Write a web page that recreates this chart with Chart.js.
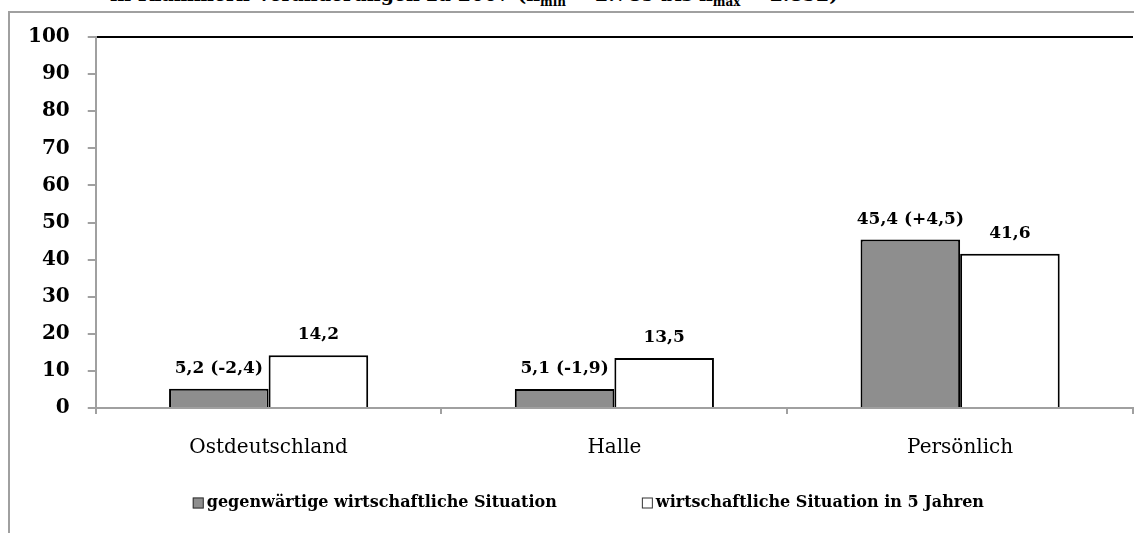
<!DOCTYPE html>
<html lang="de">
<head>
<meta charset="utf-8">
<title>Wirtschaftliche Situation</title>
<script src="https://cdn.jsdelivr.net/npm/chart.js@4.4.1/dist/chart.umd.min.js"></script>
<style>
  html, body { margin: 0; padding: 0; background: #fff; }
  #wrap { position: relative; width: 1134px; height: 533px; overflow: hidden; }
  #frame {
    position: absolute; left: 8px; top: 11px; right: -4px; bottom: -4px;
    border-top: 2px solid #a0a0a0; border-left: 2px solid #a0a0a0;
  }
  #subtitle {
    position: absolute; left: 110px; top: -17px; white-space: nowrap;
    font: bold 19px "DejaVu Serif", serif; color: #000;
  }
  #subtitle sub { font-size: 12px; }
  canvas { position: absolute; left: 0; top: 0; }
</style>
</head>
<body>
<div id="wrap">
  <div id="frame"></div>
  <div id="subtitle">in Klammern Veränderungen zu 2007 (n<sub>min</sub> = 2.789 bis n<sub>max</sub> = 2.852)</div>
  <canvas id="chart" width="1134" height="533"></canvas>
</div>
<script>
const categories = ["Ostdeutschland", "Halle", "Persönlich"];
const currentSituation = [5.2, 5.1, 45.4];
const changesTo2007 = [-2.4, -1.9, 4.5];
const inFiveYears = [14.2, 13.5, 41.6];
const yTicks = [0, 10, 20, 30, 40, 50, 60, 70, 80, 90, 100];

const axisGray = "#a0a0a0";
const serif = "'DejaVu Serif', serif";

function fmt(v) {
  return v.toFixed(1).replace(".", ",");
}

function fmtChange(v) {
  return (v > 0 ? "+" : "") + fmt(v);
}

// value labels above each bar, change to 2007 in brackets for the first series
const barLabels = {
  id: "barLabels",
  afterDatasetsDraw(chart) {
    const ctx = chart.ctx;
    ctx.save();
    ctx.font = "bold 17px " + serif;
    ctx.fillStyle = "#000";
    ctx.textAlign = "center";
    ctx.textBaseline = "alphabetic";
    chart.data.datasets.forEach((ds, di) => {
      chart.getDatasetMeta(di).data.forEach((bar, i) => {
        let text = fmt(ds.data[i]);
        if (di === 0) text += " (" + fmtChange(changesTo2007[i]) + ")";
        ctx.fillText(text, bar.x, bar.y - 16);
      });
    });
    ctx.restore();
  }
};

// one-row legend under the category labels, wide gap between the two entries
const bottomLegend = {
  id: "bottomLegend",
  afterDraw(chart) {
    const ctx = chart.ctx;
    const area = chart.chartArea;
    const box = 11, textGap = 3, itemGap = 85, y = 503;
    ctx.save();
    ctx.font = "bold 16px " + serif;
    ctx.textBaseline = "middle";
    const items = chart.data.datasets.map(ds => ({
      text: ds.label,
      fill: ds.backgroundColor,
      width: box + textGap + ctx.measureText(ds.label).width
    }));
    const total = items.reduce((s, it) => s + it.width, 0) + itemGap * (items.length - 1);
    let x = (area.left + area.right) / 2 - 26 - total / 2;
    items.forEach(it => {
      ctx.fillStyle = it.fill;
      ctx.fillRect(x, y - box / 2, box, box);
      ctx.strokeStyle = "#333";
      ctx.lineWidth = 1;
      ctx.strokeRect(x + 0.5, y - box / 2 + 0.5, box - 1, box - 1);
      ctx.fillStyle = "#000";
      ctx.fillText(it.text, x + box + textGap, y);
      x += it.width + itemGap;
    });
    ctx.restore();
  }
};

new Chart(document.getElementById("chart"), {
  type: "bar",
  data: {
    labels: categories,
    datasets: [
      {
        label: "gegenwärtige wirtschaftliche Situation",
        data: currentSituation,
        backgroundColor: "#8e8e8e",
        borderColor: "#000",
        borderWidth: 2
      },
      {
        label: "wirtschaftliche Situation in 5 Jahren",
        data: inFiveYears,
        backgroundColor: "#fff",
        borderColor: "#000",
        borderWidth: 2
      }
    ]
  },
  options: {
    responsive: false,
    animation: false,
    datasets: {
      bar: { categoryPercentage: 0.576, barPercentage: 1 }
    },
    layout: { padding: { top: 37, right: 1, bottom: 51, left: 10 } },
    scales: {
      x: {
        border: { color: axisGray, width: 2 },
        grid: {
          offset: true,
          lineWidth: 2,
          color: c => c.index === categories.length ? axisGray : "transparent",
          tickColor: axisGray,
          tickLength: 6
        },
        ticks: {
          padding: 22,
          color: "#000",
          font: { family: serif, size: 20 }
        }
      },
      y: {
        min: 0,
        max: 100,
        afterBuildTicks: axis => { axis.ticks = yTicks.map(v => ({ value: v })); },
        border: { color: axisGray, width: 2 },
        grid: {
          lineWidth: 2,
          color: c => c.tick && c.tick.value === 100 ? "#000" : "transparent",
          tickColor: axisGray,
          tickLength: 8
        },
        ticks: {
          padding: 18,
          color: "#000",
          font: { family: serif, size: 20, weight: "bold" }
        }
      }
    },
    plugins: {
      legend: { display: false },
      tooltip: { enabled: false }
    }
  },
  plugins: [barLabels, bottomLegend]
});
</script>
</body>
</html>
